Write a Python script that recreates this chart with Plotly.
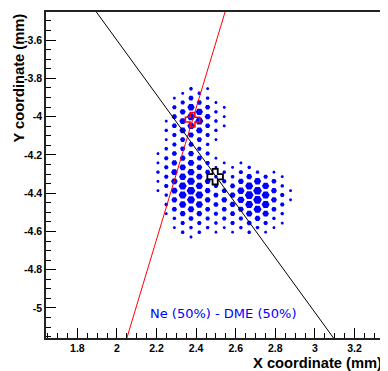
import plotly.graph_objects as go

# ---------------- data (mm) ----------------
# hexagonal pixel lattice: column centres (x) and row centres (y)
col_x = [2.207, 2.249, 2.290, 2.332, 2.374, 2.416, 2.458, 2.500, 2.542,
         2.584, 2.626, 2.668, 2.710, 2.751, 2.793, 2.835, 2.877]
row_y_odd = [-3.854, -3.903, -3.951, -4.000, -4.048, -4.096, -4.145, -4.193, -4.242,
             -4.290, -4.338, -4.387, -4.435, -4.484, -4.532, -4.580, -4.629]
row_y_even = [-3.878, -3.926, -3.975, -4.023, -4.072, -4.120, -4.168, -4.217, -4.265,
              -4.314, -4.362, -4.410, -4.459, -4.507, -4.556, -4.604, -4.652]
# charge per pixel (0 = no hit), one string per column, rows top -> bottom
col_charge = [
    "00000001121100000",
    "00012123333221000",
    "01344334566654210",
    "13566445678875320",
    "24787545678986421",
    "24786434567875320",
    "12454323345554320",
    "01222101123443210",
    "00111000123454310",
    "00000000124554310",
    "00000000135775320",
    "00000000258986420",
    "00000000027998520",
    "00000000037886310",
    "00000000014554210",
    "00000000012332100",
    "00000000000110000",
]

# principal axis (black) and emission direction (red)
axis_x = [1.896, 3.094]
axis_y = [-3.453, -5.157]
emis_x = [2.050, 2.546]
emis_y = [-5.157, -3.453]
# barycentre and impact point
bary_x, bary_y = [2.496], [-4.314]
impact_x, impact_y = [2.382], [-4.016]

x_ticks = [1.8, 2.0, 2.2, 2.4, 2.6, 2.8, 3.0, 3.2]
x_tick_labels = ["1.8", "2", "2.2", "2.4", "2.6", "2.8", "3", "3.2"]
y_ticks = [-3.6, -3.8, -4.0, -4.2, -4.4, -4.6, -4.8, -5.0]
y_tick_labels = ["-3.6", "-3.8", "-4", "-4.2", "-4.4", "-4.6", "-4.8", "-5"]

x_range = [1.6415, 3.349]
y_range = [-5.157, -3.453]

# ---------------- build ----------------
px, py, pq = [], [], []
for c, (cx, s) in enumerate(zip(col_x, col_charge)):
    rows = row_y_odd if c % 2 == 0 else row_y_even
    for ry, ch in zip(rows, s):
        q = int(ch)
        if q > 0:
            px.append(cx)
            py.append(ry)
            pq.append(q)

sizes = [2.5 + 0.7 * q for q in pq]

fig = go.Figure()
fig.add_trace(go.Scatter(
    x=px, y=py, mode="markers",
    marker=dict(symbol="hexagon2", size=sizes, color="#0000ff", opacity=1,
                line=dict(width=0)),
    hoverinfo="skip", showlegend=False))
fig.add_trace(go.Scatter(x=emis_x, y=emis_y, mode="lines",
                         line=dict(color="#ff0000", width=1), showlegend=False))
fig.add_trace(go.Scatter(x=axis_x, y=axis_y, mode="lines",
                         line=dict(color="#000000", width=1), showlegend=False))
fig.add_trace(go.Scatter(x=impact_x, y=impact_y, mode="markers",
                         marker=dict(symbol="cross-open", size=12, color="#ff0000",
                                     line=dict(width=1.5, color="#ff0000")),
                         showlegend=False))
fig.add_trace(go.Scatter(x=bary_x, y=bary_y, mode="markers",
                         marker=dict(symbol="cross-open", size=13, color="#000000",
                                     line=dict(width=1.8, color="#111111")),
                         showlegend=False))

tickfont = dict(family="Liberation Sans", size=10.5, color="black", weight="bold")
common = dict(showgrid=False, zeroline=False, showline=True, mirror=True,
              linecolor="#222", linewidth=1.5, ticks="inside", ticklen=10,
              tickwidth=1, tickcolor="black", tickfont=tickfont, tickmode="array",
              minor=dict(tickmode="linear", tick0=0, dtick=0.05, ticks="inside",
                         ticklen=5, tickwidth=1, tickcolor="black", showgrid=False))
fig.update_xaxes(range=x_range, tickvals=x_ticks, ticktext=x_tick_labels, **common)
fig.update_yaxes(range=y_range, tickvals=y_ticks, ticktext=y_tick_labels, **common)

title_font = dict(family="Liberation Sans", size=14.7, color="black", weight="bold")
fig.add_annotation(text="X coordinate (mm)", xref="paper", yref="paper", x=1, y=0,
                   xanchor="right", yanchor="middle", yshift=-25, showarrow=False,
                   font=title_font)
fig.add_annotation(text="Y coordinate (mm)", xref="paper", yref="paper", x=0, y=1,
                   xanchor="center", yanchor="top", xshift=-28, textangle=-90,
                   showarrow=False, font=title_font)
fig.add_annotation(text="Ne (50%) - DME (50%)", x=2.536, y=-5.028, showarrow=False,
                   font=dict(family="DejaVu Sans", size=13, color="#0000ff"))

# the page body adds an 8 px offset, so the figure is 8 px smaller on each side
fig.update_layout(width=380, height=363, margin=dict(l=38, r=2, t=2, b=33),
                  plot_bgcolor="white", paper_bgcolor="white")
fig.write_html("out.html")
